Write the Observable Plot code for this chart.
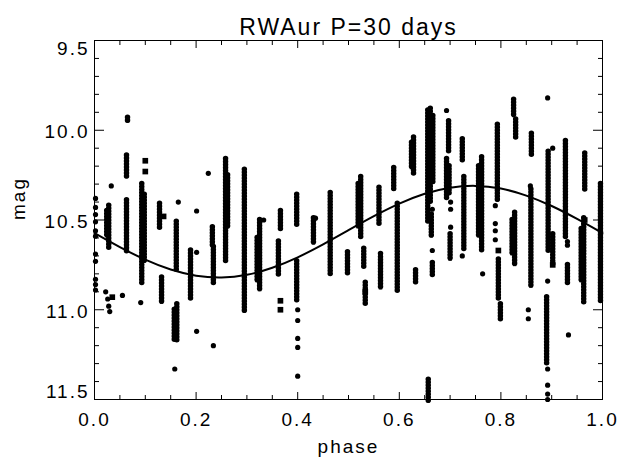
<!DOCTYPE html>
<html><head><meta charset="utf-8">
<script src="https://cdn.jsdelivr.net/npm/d3@7"></script>
<script src="https://cdn.jsdelivr.net/npm/@observablehq/plot@0.6"></script>
<style>
body{margin:0;background:#fff}
svg{display:block}
svg text{letter-spacing:2px}
</style>
</head><body><div id="chart"></div>
<script>
const title = "RWAur P=30 days";
const xLabel = "phase";
const yLabel = "mag";
const xTicks = [0, 0.2, 0.4, 0.6, 0.8, 1.0];
const xMinor = [0.05,0.1,0.15,0.25,0.3,0.35,0.45,0.5,0.55,0.65,0.7,0.75,0.85,0.9,0.95];
const yTicksInner = [10.0, 10.5, 11.0];
const yTickTop = [9.5];
const yTickBottom = [11.5];
const yMinor = [9.6,9.7,9.8,9.9,10.1,10.2,10.3,10.4,10.6,10.7,10.8,10.9,11.1,11.2,11.3,11.4];

// fitted sinusoid
const fitPhase = [0,0.05,0.1,0.15,0.2,0.25,0.3,0.35,0.4,0.45,0.5,0.55,0.6,0.65,0.7,0.75,0.8,0.85,0.9,0.95,1.0];
const fitMag = [10.573,10.651,10.721,10.776,10.810,10.820,10.805,10.766,10.708,10.636,10.557,10.479,10.409,10.354,10.320,10.310,10.325,10.364,10.422,10.494,10.573];

// dense vertical runs of observations: [phase, mag from, mag to]
const streaks = [
 [0.065,9.93,9.96],[0.063,10.14,10.27],[0.063,10.39,10.68],[0.024,10.45,10.60],[0.028,10.42,10.66],
 [0.093,10.30,10.86],[0.098,10.36,10.74],[0.128,10.41,10.55],[0.132,10.82,10.97],[0.161,10.51,10.78],
 [0.157,11.00,11.17],[0.162,10.97,11.18],[0.189,10.67,10.94],[0.232,10.54,10.65],[0.234,10.65,10.86],
 [0.258,10.16,10.73],[0.262,10.25,10.55],[0.295,10.22,11.02],[0.325,10.50,10.90],[0.320,10.60,10.85],
 [0.366,10.45,10.56],[0.362,10.62,10.81],[0.398,10.36,10.53],[0.398,10.73,10.96],[0.431,10.49,10.64],
 [0.464,10.35,10.81],[0.498,10.68,10.80],[0.524,10.26,10.60],[0.519,10.30,10.55],[0.530,10.66,10.77],
 [0.533,10.85,10.97],[0.560,10.32,10.53],[0.563,10.69,10.89],[0.589,10.21,10.34],[0.596,10.41,10.90],
 [0.628,10.04,10.25],[0.624,10.07,10.22],[0.632,10.78,10.86],[0.657,11.39,11.52],[0.656,9.89,10.51],
 [0.661,9.88,10.40],[0.666,9.92,10.30],[0.663,10.47,10.60],[0.665,10.74,10.81],[0.697,9.95,10.12],
 [0.693,10.16,10.38],[0.698,10.20,10.36],[0.700,10.58,10.73],[0.724,10.05,10.18],[0.727,10.26,10.67],
 [0.762,10.15,10.67],[0.756,10.20,10.60],[0.793,9.97,10.40],[0.795,10.72,10.94],[0.799,10.97,11.06],
 [0.825,9.83,9.93],[0.829,9.94,10.05],[0.827,10.46,10.76],[0.822,10.50,10.70],[0.860,10.02,10.14],
 [0.859,10.33,10.88],[0.893,10.12,10.68],[0.902,10.58,10.75],[0.890,10.93,11.31],[0.927,10.06,10.60],
 [0.931,10.75,10.86],[0.965,10.13,10.34],[0.963,10.49,10.97],[0.958,10.55,10.85],[0.996,10.30,10.96]
];

// isolated observations: [phase, mag]
const dots = [
 [0.033,10.31],[0.224,10.24],[0.165,10.40],[0.201,10.45],[0.201,10.68],[0.201,11.12],
 [0.158,11.33],[0.234,11.20],[0.055,10.92],[0.091,10.96],[0.333,10.50],[0.435,10.49],
 [0.400,11.00],[0.400,11.06],[0.400,11.16],[0.400,11.21],[0.400,11.37],
 [0.693,9.89],[0.892,9.82],[0.858,10.31],[0.902,10.10],[0.665,10.44],[0.665,10.67],
 [0.701,10.40],[0.701,10.44],[0.701,10.54],[0.724,10.70],[0.764,10.80],
 [0.789,10.42],[0.789,10.52],[0.789,10.56],[0.789,10.61],
 [0.854,11.00],[0.854,11.05],[0.892,10.84],[0.892,11.33],[0.892,11.42],[0.892,11.47],[0.892,11.50],
 [0.933,11.14],[0.931,10.62],[0.931,10.64],
 [0.002,10.38],[0.002,10.43],[0.002,10.47],[0.002,10.51],[0.002,10.56],[0.002,10.59],
 [0.002,10.69],[0.002,10.73],[0.002,10.83],[0.002,10.86],[0.002,10.89],
 [0.022,10.90],[0.026,10.94],[0.028,10.98],[0.030,11.01]
];

// points drawn with square symbols
const squares = [
 [0.100,10.17],[0.100,10.23],[0.035,10.93],[0.366,10.95],[0.366,11.00],[0.533,10.90],
 [0.965,10.50],[0.795,10.67],[0.902,10.75],[0.136,10.48]
];

const fit = fitPhase.map((p, i) => ({phase: p, mag: fitMag[i]}));
const fmt = d => d.toFixed(1);
const font = "'Liberation Sans', Arial, sans-serif";

const chart = Plot.plot({
  width: 620,
  height: 462,
  marginLeft: 94,
  marginRight: 18,
  marginTop: 40,
  marginBottom: 63,
  style: {fontFamily: font, fontSize: "19px", color: "#000", background: "#fff"},
  x: {domain: [0, 1]},
  y: {domain: [9.5, 11.5], reverse: true},
  marks: [
    Plot.ruleX(streaks, {x: d => d[0], y1: d => d[1], y2: d => d[2], stroke: "#000", strokeWidth: 5.5, strokeLinecap: "round", strokeDasharray: "0 3"}),
    Plot.ruleX(streaks, {x: d => d[0], y1: d => d[1], y2: d => d[2], stroke: "#000", strokeWidth: 3.5}),
    Plot.dot(dots, {x: d => d[0], y: d => d[1], r: 2.6, fill: "#000", stroke: "none"}),
    Plot.dot(squares, {x: d => d[0], y: d => d[1], r: 3.2, symbol: "square", fill: "#000", stroke: "none"}),
    Plot.line(fit, {x: "phase", y: "mag", curve: "natural", stroke: "#000", strokeWidth: 2}),
    Plot.frame({stroke: "#000", strokeWidth: 1}),
    // x ticks (inward) and labels
    Plot.axisX(xTicks, {anchor: "bottom", tickSize: -7, tickPadding: 20, tickFormat: fmt, label: null, fontSize: 19}),
    Plot.axisX(xMinor, {anchor: "bottom", tickSize: -4, fill: "none", label: null}),
    Plot.axisX(xTicks, {anchor: "top", tickSize: -7, fill: "none", label: null}),
    Plot.axisX(xMinor, {anchor: "top", tickSize: -4, fill: "none", label: null}),
    // y ticks (inward) and labels
    Plot.axisY(yTicksInner.concat(yTickTop, yTickBottom), {anchor: "left", tickSize: -10, fill: "none", label: null}),
    Plot.axisY(yMinor, {anchor: "left", tickSize: -5, fill: "none", label: null}),
    Plot.axisY(yTicksInner.concat(yTickTop, yTickBottom), {anchor: "right", tickSize: -10, fill: "none", label: null}),
    Plot.axisY(yMinor, {anchor: "right", tickSize: -5, fill: "none", label: null}),
    Plot.axisY(yTicksInner, {anchor: "left", tickSize: 0, tickPadding: 5, dy: 2, tickFormat: fmt, label: null, fontSize: 19}),
    Plot.axisY(yTickTop, {anchor: "left", tickSize: 0, tickPadding: 5, dy: 8, tickFormat: fmt, label: null, fontSize: 19}),
    Plot.axisY(yTickBottom, {anchor: "left", tickSize: 0, tickPadding: 5, dy: -8, tickFormat: fmt, label: null, fontSize: 19}),
    // titles
    Plot.text([title], {frameAnchor: "top", dy: -22, text: d => d, fontSize: 23, style: "letter-spacing:3px"}),
    Plot.text([xLabel], {frameAnchor: "bottom", dy: 53, text: d => d, fontSize: 19}),
    Plot.text([yLabel], {frameAnchor: "left", dx: -76, rotate: -90, text: d => d, fontSize: 19})
  ]
});
document.getElementById("chart").appendChild(chart);
</script>
</body></html>
